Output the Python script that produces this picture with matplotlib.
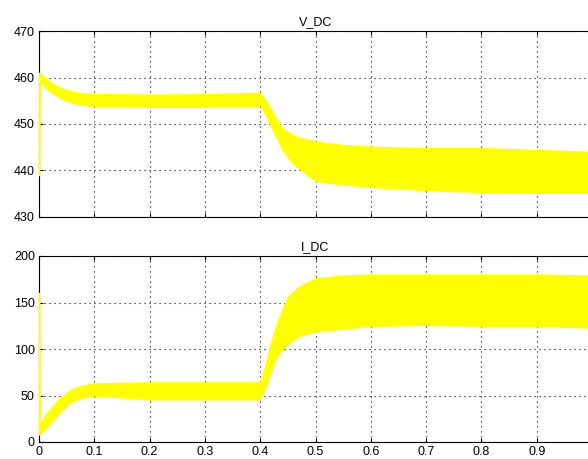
import matplotlib.pyplot as plt

# V_DC envelope
t_v = [0, 0.001, 0.01, 0.02, 0.04, 0.06, 0.08, 0.1, 0.2, 0.3, 0.39, 0.40,
       0.41, 0.42, 0.44, 0.46, 0.48, 0.5, 0.55, 0.6, 0.7, 0.8, 0.9, 1.0]
v_upper = [461, 461, 460, 459, 457.7, 457, 456.6, 456.5, 456.3, 456.4, 456.7, 456.7,
           455, 453, 449, 447.6, 446.8, 446.2, 445.5, 445.1, 444.8, 444.8, 444.4, 444]
v_lower = [439, 459.5, 458.2, 457, 455.5, 454.6, 454.1, 453.9, 453.7, 453.7, 453.9, 454,
           452, 449.5, 444.5, 441.5, 439.5, 437.8, 437, 436.5, 435.8, 435.4, 435.2, 435.2]

# I_DC envelope
t_i = [0, 0.001, 0.01, 0.02, 0.03, 0.04, 0.05, 0.06, 0.08, 0.1, 0.2, 0.3, 0.395, 0.40,
       0.41, 0.42, 0.43, 0.44, 0.45, 0.47, 0.5, 0.55, 0.6, 0.7, 0.8, 0.9, 1.0]
i_upper = [160, 18, 27, 35, 42, 48, 53, 57, 61, 63, 64, 64, 64, 64,
           83, 108, 127, 142, 156, 167, 176, 179, 180, 180, 180, 180, 179]
i_lower = [8, 9, 14, 20, 27, 34, 39, 44, 48, 50, 46, 46, 46, 46,
           60, 78, 92, 100, 106, 114, 119, 122, 125, 126, 125, 125, 123]

x_ticks = [0, 0.1, 0.2, 0.3, 0.4, 0.5, 0.6, 0.7, 0.8, 0.9, 1.0]
x_labels = ['0', '0.1', '0.2', '0.3', '0.4', '0.5', '0.6', '0.7', '0.8', '0.9', '']

plt.rcParams['font.family'] = ['Liberation Sans', 'DejaVu Sans']
plt.rcParams['font.size'] = 9

fig = plt.figure(figsize=(5.88, 4.59), dpi=100)
ax1 = fig.add_axes([39/588, 242/459, 553/588, 186/459])
ax2 = fig.add_axes([39/588, 17/459, 553/588, 186/459])

yellow = '#ffff00'
# drawn over the left spine like the scope trace, grid stays on top
ax1.fill_between(t_v, v_lower, v_upper, color=yellow, linewidth=1, edgecolor=yellow,
                 zorder=2.6, clip_on=False)
ax2.fill_between(t_i, i_lower, i_upper, color=yellow, linewidth=1, edgecolor=yellow,
                 zorder=2.6, clip_on=False)

ax1.set_ylim(430, 470)
ax1.set_yticks([430, 440, 450, 460, 470])
ax2.set_ylim(0, 200)
ax2.set_yticks([0, 50, 100, 150, 200])

for ax, title in [(ax1, 'V_DC'), (ax2, 'I_DC')]:
    ax.set_xlim(0, 1)
    ax.set_xticks(x_ticks)
    ax.set_title(title, fontsize=9, pad=4)
    ax.grid(True, color='black', linestyle=(0, (1, 3.5)), linewidth=0.8)
    ax.tick_params(direction='in', length=3, width=0.8, top=True, right=True, pad=3)
    for s in ax.spines.values():
        s.set_linewidth(0.8)
    for g in ax.xaxis.get_gridlines() + ax.yaxis.get_gridlines():
        g.set_zorder(3)

ax1.set_xticklabels([])
ax2.set_xticklabels(x_labels)

fig.savefig('out.png', dpi=100)
